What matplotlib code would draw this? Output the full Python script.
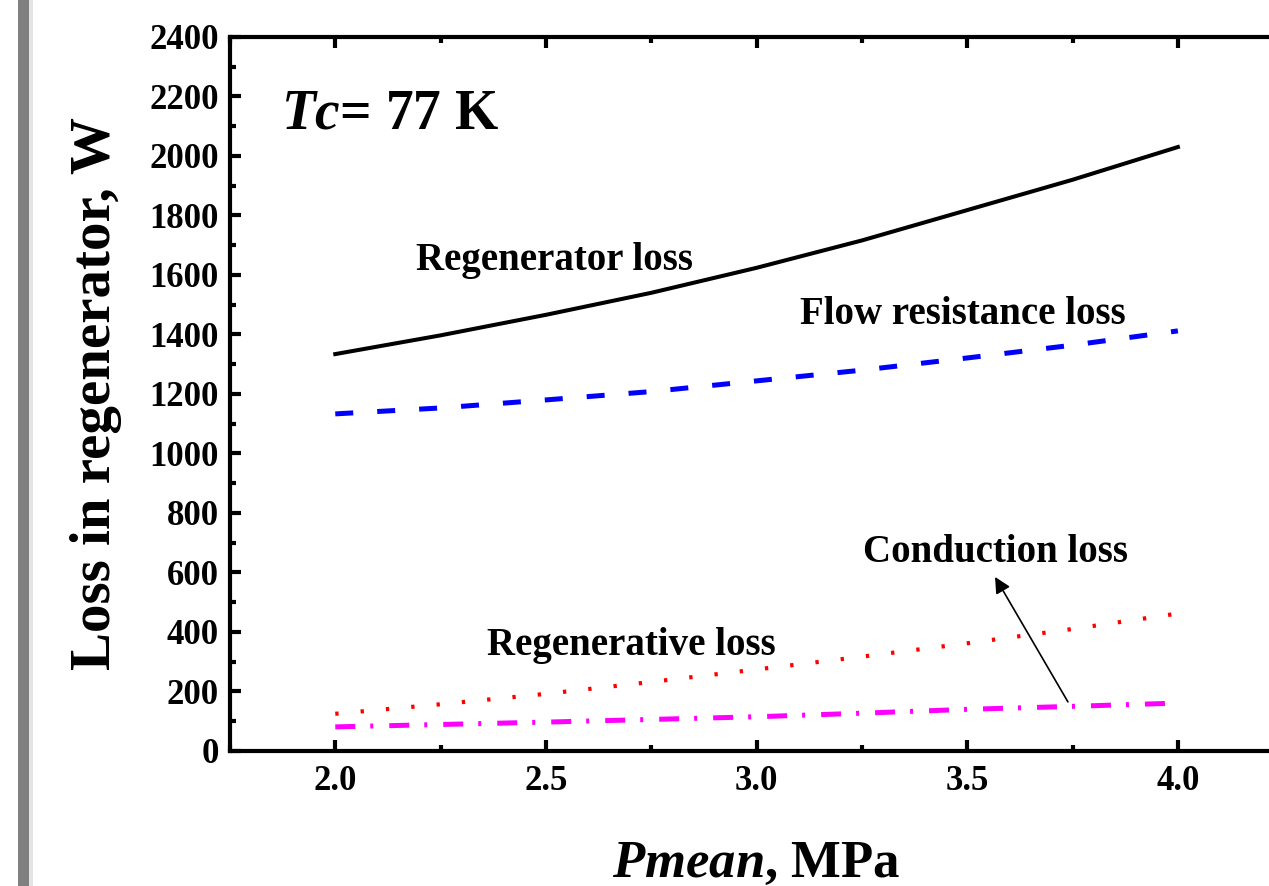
import matplotlib
matplotlib.use("Agg")
import matplotlib.pyplot as plt
from matplotlib.patches import Rectangle
from matplotlib.ticker import MultipleLocator

plt.rcParams["font.family"] = "Liberation Serif"
plt.rcParams["font.weight"] = "bold"
plt.rcParams["axes.labelweight"] = "bold"
plt.rcParams["mathtext.fontset"] = "custom"
plt.rcParams["mathtext.it"] = "Liberation Serif:italic:bold"
plt.rcParams["mathtext.rm"] = "Liberation Serif:bold"

# data
pmean = [2.0, 2.25, 2.5, 2.75, 3.0, 3.25, 3.5, 3.75, 4.0]
regenerator_loss = [1334, 1397, 1466, 1540, 1624, 1716, 1818, 1920, 2030]
flow_resistance_loss = [1133, 1153, 1180, 1208, 1244, 1280, 1321, 1364, 1412]
conduction_loss = [125, 157, 192, 232, 274, 317, 362, 410, 462]
regenerative_loss = [81, 89, 97, 106, 115, 127, 140, 150, 161]

fig = plt.figure(figsize=(12.69, 8.86), dpi=100)
fig.patches.append(Rectangle((18 / 1269, 0), 11 / 1269, 1, transform=fig.transFigure,
                             facecolor="#808080", edgecolor="none"))
fig.patches.append(Rectangle((29 / 1269, 0), 4 / 1269, 1, transform=fig.transFigure,
                             facecolor="#e4e4e4", edgecolor="none"))

ax = fig.add_axes([0.1812, 0.1524, 0.830, 0.8059])

ax.plot(pmean, regenerator_loss, color="black", lw=2.9)
ax.plot(pmean, flow_resistance_loss, color="blue", lw=3.6, dashes=(3.6, 4.8))
ax.plot(pmean, conduction_loss, color="red", lw=3.0, dashes=(0.8, 5.3))
ax.plot(pmean, regenerative_loss, color="magenta", lw=3.6, dashes=(4, 3, 0.6, 3.2))

ax.set_xlim(1.75, 4.25)
ax.set_ylim(0, 2400)
ax.xaxis.set_major_locator(MultipleLocator(0.5))
ax.xaxis.set_minor_locator(MultipleLocator(0.25))
ax.yaxis.set_major_locator(MultipleLocator(200))
ax.yaxis.set_minor_locator(MultipleLocator(100))
ax.xaxis.set_major_formatter(plt.FormatStrFormatter("%.1f"))

for side in ax.spines.values():
    side.set_linewidth(3)
ax.tick_params(which="both", direction="in", top=True, right=True, width=3,
               labelsize=25)
ax.tick_params(which="major", length=8)
ax.tick_params(which="minor", length=4)
ax.tick_params(axis="x", pad=10)
ax.tick_params(axis="y", pad=8)

ax.set_xlabel(r"$\mathit{Pmean}$, MPa", fontsize=38, labelpad=30)
ax.set_ylabel("Loss in regenerator, W", fontsize=41, labelpad=20)

ax.text(1.872, 2138, r"$\mathit{Tc}$= 77 K", fontsize=40, va="center", ha="left")
ax.text(2.521, 1650, "Regenerator loss", fontsize=28, ha="center", va="center")
ax.text(3.490, 1466, "Flow resistance loss", fontsize=28, ha="center", va="center")
ax.text(2.704, 356, "Regenerative loss", fontsize=28, ha="center", va="center")
ax.text(3.566, 666, "Conduction loss", fontsize=28, ha="center", va="center")
ax.annotate("", xy=(3.566, 585), xytext=(3.739, 165),
            arrowprops=dict(arrowstyle="-|>", color="black", lw=1.2,
                            mutation_scale=24, shrinkA=0, shrinkB=0))

fig.savefig("out.png", dpi=100)
